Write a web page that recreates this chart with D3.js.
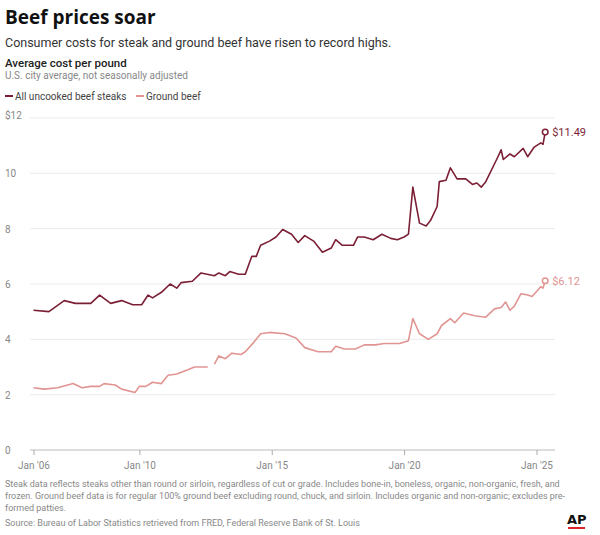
<!DOCTYPE html><html><head><meta charset="utf-8">
<script src="https://cdn.jsdelivr.net/npm/d3@7"></script>
<style>body{margin:0;background:#fff;font-family:Roboto,"Open Sans",sans-serif}</style></head><body>
<svg id="c" width="600" height="535"></svg>
<script>
const steakDates=["2006-01","2006-08","2007-03","2007-08","2008-03","2008-07","2008-12","2009-05","2009-10","2010-02","2010-05","2010-07","2010-11","2011-03","2011-06","2011-08","2012-01","2012-05","2012-11","2013-01","2013-04","2013-06","2013-10","2014-01","2014-04","2014-06","2014-08","2014-12","2015-03","2015-06","2015-10","2016-01","2016-04","2016-08","2016-12","2017-04","2017-06","2017-09","2018-02","2018-04","2018-07","2018-11","2019-03","2019-07","2019-10","2020-01","2020-03","2020-05","2020-08","2020-11","2021-01","2021-04","2021-05","2021-08","2021-10","2022-01","2022-05","2022-08","2022-10","2022-12","2023-02","2023-07","2023-09","2023-10","2024-01","2024-03","2024-07","2024-09","2024-12","2025-03","2025-04","2025-05"];
const steakValues=[5.05,5.0,5.4,5.3,5.3,5.6,5.3,5.4,5.25,5.25,5.6,5.5,5.7,6.0,5.85,6.05,6.1,6.4,6.3,6.4,6.3,6.45,6.35,6.35,7.0,7.0,7.4,7.55,7.7,7.97,7.8,7.5,7.75,7.55,7.15,7.3,7.6,7.4,7.4,7.7,7.7,7.6,7.8,7.65,7.6,7.7,7.8,9.5,8.2,8.1,8.3,8.8,9.7,9.75,10.2,9.8,9.8,9.6,9.65,9.5,9.7,10.5,10.85,10.5,10.7,10.6,10.9,10.6,10.95,11.1,11.05,11.49];
const groundDates=["2006-01","2006-06","2006-12","2007-07","2007-11","2008-03","2008-07","2008-09","2009-02","2009-05","2009-11","2010-01","2010-04","2010-07","2010-11","2011-02","2011-06","2011-11","2012-02","2012-08","2012-10","2012-11","2013-01","2013-04","2013-07","2013-11","2014-01","2014-05","2014-08","2014-12","2015-07","2015-12","2016-04","2016-10","2017-04","2017-06","2017-10","2018-03","2018-07","2018-12","2019-04","2019-11","2020-03","2020-05","2020-08","2020-12","2021-04","2021-06","2021-10","2021-12","2022-04","2022-09","2023-02","2023-06","2023-09","2023-11","2024-01","2024-03","2024-06","2024-09","2024-11","2025-03","2025-04","2025-05"];
const groundValues=[2.25,2.2,2.25,2.4,2.25,2.3,2.3,2.4,2.35,2.2,2.08,2.3,2.3,2.45,2.4,2.7,2.75,2.9,3.0,3.0,null,3.1,3.4,3.3,3.5,3.45,3.55,3.9,4.2,4.25,4.2,4.05,3.7,3.55,3.55,3.75,3.65,3.65,3.8,3.8,3.85,3.85,3.95,4.75,4.2,4.0,4.2,4.5,4.75,4.6,4.95,4.85,4.8,5.1,5.15,5.35,5.05,5.2,5.65,5.6,5.55,5.9,5.85,6.12];
const yTicks=[0,2,4,6,8,10,12];
const xTickDates=["2006-01","2010-01","2015-01","2020-01","2025-01"];
const xTickLabels=["Jan '06","Jan '10","Jan '15","Jan '20","Jan '25"];
const steakColor="#7b1f35", groundColor="#e09593";

const p=d3.timeParse("%Y-%m");
const svg=d3.select("#c");
const x=d3.scaleTime().domain([p("2006-01"),p("2025-01")]).range([33.5,536.5]);
const y=d3.scaleLinear().domain([0,12]).range([450,118]);
const txt=(t,xx,yy,o)=>{const e=svg.append("text").attr("x",xx).attr("y",yy).text(t);for(const k in o)e.attr(k,o[k]);return e;};
txt("Beef prices soar",5,24,{"font-size":19,"font-weight":700,fill:"#111","font-family":"'Open Sans'"});
txt("Consumer costs for steak and ground beef have risen to record highs.",5,47,{"font-size":12.5,fill:"#333"});
txt("Average cost per pound",5,67,{"font-size":11.5,"font-weight":500,fill:"#222"});
txt("U.S. city average, not seasonally adjusted",5,79,{"font-size":10,fill:"#888"});
const lg=[["All uncooked beef steaks",steakColor,5],["Ground beef",groundColor,136]];
lg.forEach(([t,c,lx])=>{svg.append("line").attr("x1",lx).attr("x2",lx+8).attr("y1",96).attr("y2",96).attr("stroke",c).attr("stroke-width",2);txt(t,lx+10,100,{"font-size":10,fill:"#444"});});

const g=svg.append("g");
yTicks.forEach(v=>{
  if(v>0)g.append("line").attr("x1",30).attr("x2",555).attr("y1",y(v)).attr("y2",y(v)).attr("stroke","#ececec");
  txt(v===12?"$12":v,5,y(v)+(v===12?1:4),{"font-size":10,fill:"#888"});
});
g.append("line").attr("x1",30).attr("x2",555).attr("y1",450).attr("y2",450).attr("stroke","#bbb");
const xa=svg.append("g").attr("transform","translate(0,450)").call(d3.axisBottom(x).tickValues(xTickDates.map(p)).tickFormat((d,i)=>xTickLabels[i]).tickSize(5));
xa.select(".domain").remove();
xa.selectAll("line").attr("stroke","#aaa");
xa.selectAll("text").attr("font-size",10).attr("fill","#888").attr("font-family","Roboto").attr("dy","1.1em");

const line=d3.line().defined(d=>d[1]!=null).x(d=>x(p(d[0]))).y(d=>y(d[1]));
const series=[[steakDates,steakValues,steakColor,"$11.49"],[groundDates,groundValues,groundColor,"$6.12"]];
series.forEach(([ds,vs,c,lab])=>{
  const data=ds.map((d,i)=>[d,vs[i]]);
  svg.append("path").datum(data).attr("d",line).attr("fill","none").attr("stroke",c).attr("stroke-width",1.6).attr("stroke-linejoin","round");
  const last=data[data.length-1];
  svg.append("circle").attr("cx",x(p(last[0]))).attr("cy",y(last[1])).attr("r",2.8).attr("fill","#fff").attr("stroke",c).attr("stroke-width",1.5);
  txt(lab,x(p(last[0]))+7,y(last[1])+4,{"font-size":11,fill:c});
});

const notes=["Steak data reflects steaks other than round or sirloin, regardless of cut or grade. Includes bone-in, boneless, organic, non-organic, fresh, and","frozen. Ground beef data is for regular 100% ground beef excluding round, chuck, and sirloin. Includes organic and non-organic; excludes pre-","formed patties."];
notes.forEach((t,i)=>txt(t,5,487+i*12,{"font-size":9,fill:"#888"}));
txt("Source: Bureau of Labor Statistics retrieved from FRED, Federal Reserve Bank of St. Louis",5,526,{"font-size":9,fill:"#888"});
txt("AP",567,524,{"font-size":13,"font-weight":900,fill:"#111","font-family":"'DejaVu Sans'"});
svg.append("rect").attr("x",568).attr("y",527).attr("width",17).attr("height",2).attr("fill","#d9262c");
</script></body></html>
